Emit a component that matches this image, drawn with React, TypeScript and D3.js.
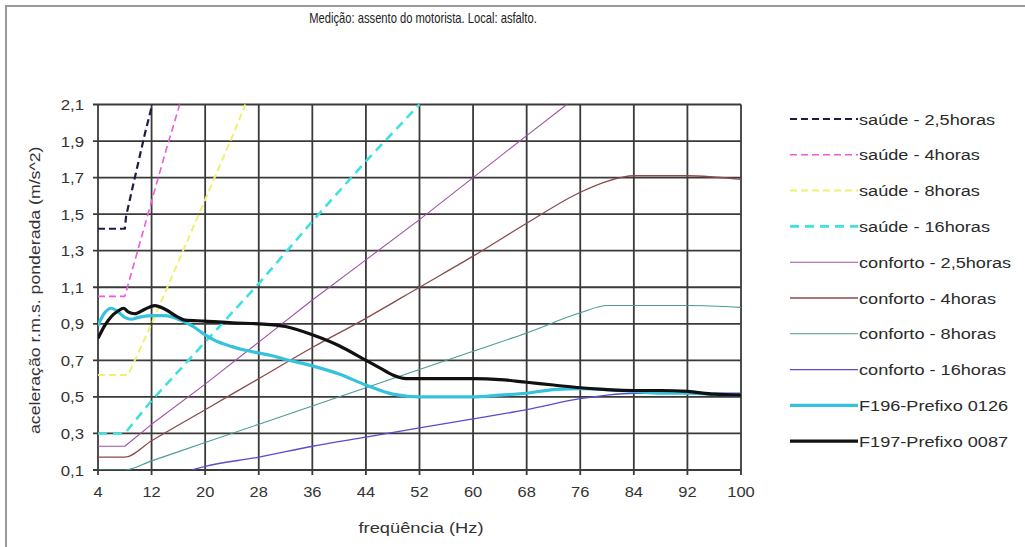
import React from "react";
import * as d3 from "d3";

const title = "Medição: assento do motorista. Local: asfalto.";
const xTitle = "freqüência (Hz)";
const yTitle = "aceleração r.m.s. ponderada (m/s^2)";

const xTicks = [4, 12, 20, 28, 36, 44, 52, 60, 68, 76, 84, 92, 100];
const yTicks = [0.1, 0.3, 0.5, 0.7, 0.9, 1.1, 1.3, 1.5, 1.7, 1.9, 2.1];

const saude25F = [4, 8, 8.2, 9, 10, 11, 12.1];
const saude25V = [1.42, 1.42, 1.49, 1.62, 1.78, 1.94, 2.1];
const saude4F = [4, 8, 10, 12, 14, 16.2];
const saude4V = [1.05, 1.05, 1.31, 1.57, 1.83, 2.1];
const saude8F = [4, 8.5, 12, 16, 20, 24, 26];
const saude8V = [0.62, 0.62, 0.9, 1.24, 1.58, 1.92, 2.1];
const saude16F = [4, 8, 12, 20, 28, 36, 44, 52];
const saude16V = [0.3, 0.3, 0.48, 0.8, 1.12, 1.46, 1.79, 2.1];

const conf25F = [4, 8, 12, 20, 28, 36, 44, 52, 60, 68, 74];
const conf25V = [0.23, 0.23, 0.35, 0.57, 0.8, 1.03, 1.25, 1.47, 1.7, 1.93, 2.1];
const conf4F = [4, 8, 12, 20, 28, 36, 44, 52, 60, 68, 76, 80, 84, 92, 100];
const conf4V = [0.17, 0.17, 0.26, 0.43, 0.6, 0.77, 0.93, 1.1, 1.27, 1.45, 1.62, 1.68, 1.71, 1.71, 1.69];
const conf8F = [4, 8, 12, 20, 28, 36, 44, 52, 60, 68, 76, 80, 84, 92, 100];
const conf8V = [0.1, 0.1, 0.15, 0.25, 0.35, 0.45, 0.55, 0.65, 0.75, 0.85, 0.96, 1.0, 1.0, 1.0, 0.99];
const conf16F = [18, 20, 28, 36, 44, 52, 60, 68, 76, 80, 84, 92, 100];
const conf16V = [0.1, 0.12, 0.17, 0.23, 0.28, 0.33, 0.38, 0.43, 0.49, 0.51, 0.52, 0.52, 0.52];

const f196F = [4, 5, 6, 7, 8, 9, 10, 12, 14, 16, 18, 20, 22, 24, 26, 28, 30, 32, 36, 40, 44, 48, 52, 56, 60, 64, 68, 72, 76, 80, 84, 88, 92, 96, 100];
const f196V = [0.89, 0.96, 0.985, 0.965, 0.935, 0.925, 0.935, 0.945, 0.945, 0.925, 0.89, 0.84, 0.8, 0.775, 0.755, 0.74, 0.725, 0.705, 0.67, 0.625, 0.565, 0.515, 0.5, 0.5, 0.5, 0.51, 0.52, 0.54, 0.545, 0.54, 0.53, 0.52, 0.52, 0.515, 0.51];
const f197F = [4, 5, 6, 7, 7.8, 8.5, 9.5, 11, 12.5, 14, 16, 17, 20, 24, 28, 32, 36, 40, 44, 46, 48, 50, 52, 60, 64, 68, 72, 76, 80, 84, 88, 92, 96, 100];
const f197V = [0.82, 0.89, 0.94, 0.97, 0.985, 0.965, 0.955, 0.98, 1.0, 0.98, 0.935, 0.92, 0.915, 0.905, 0.9, 0.885, 0.84, 0.78, 0.7, 0.66, 0.62, 0.6, 0.6, 0.6, 0.595, 0.58, 0.565, 0.55, 0.54, 0.535, 0.535, 0.53, 0.515, 0.51];

const seriesNames = [
  "saúde - 2,5horas",
  "saúde - 4horas",
  "saúde - 8horas",
  "saúde - 16horas",
  "conforto - 2,5horas",
  "conforto - 4horas",
  "conforto - 8horas",
  "conforto - 16horas",
  "F196-Prefixo 0126",
  "F197-Prefixo 0087",
];

const seriesF = [saude25F, saude4F, saude8F, saude16F, conf25F, conf4F, conf8F, conf16F, f196F, f197F];
const seriesV = [saude25V, saude4V, saude8V, saude16V, conf25V, conf4V, conf8V, conf16V, f196V, f197V];

const styles = [
  { color: "#1c1c4a", width: 2.2, dash: "7,4", smooth: false },
  { color: "#ee5ad8", width: 1.6, dash: "7,4", smooth: false },
  { color: "#f0f070", width: 2, dash: "7,4", smooth: false },
  { color: "#3fe0e0", width: 2.6, dash: "9,6", smooth: false },
  { color: "#a050a8", width: 1.1, dash: null, smooth: false },
  { color: "#8c4a4a", width: 1.3, dash: null, smooth: true },
  { color: "#4c9a9a", width: 1.1, dash: null, smooth: true },
  { color: "#5a4ccc", width: 1.3, dash: null, smooth: true },
  { color: "#36c2dc", width: 3.2, dash: null, smooth: true },
  { color: "#111111", width: 3.2, dash: null, smooth: true },
];

const W = 1025;
const H = 547;
const L = 98;
const R = 741;
const T = 104.5;
const B = 470;

export default function App() {
  const x = d3.scaleLinear().domain([4, 100]).range([L, R]);
  const y = d3.scaleLinear().domain([0.1, 2.1]).range([B, T]);
  const font = "'Liberation Sans', Arial, sans-serif";

  return (
    <svg
      width={W}
      height={H}
      style={{ position: "absolute", left: 0, top: 0, background: "#fff" }}
      fontFamily={font}
    >
      <rect x={6} y={6} width={1040} height={560} fill="#fff" stroke="#9a9a9a" strokeWidth={2} />
      <text
        transform="translate(423, 23) scale(0.8, 1)"
        textAnchor="middle"
        fontSize={14}
        fill="#222"
      >
        {title}
      </text>
      <defs>
        <clipPath id="plotclip">
          <rect x={L} y={T - 2} width={R - L} height={B - T + 2} />
        </clipPath>
      </defs>
      {/* grid */}
      {xTicks.map((t) => (
        <line key={"gx" + t} x1={x(t)} x2={x(t)} y1={T} y2={B + 5} stroke="#3a3a3a" strokeWidth={1.8} />
      ))}
      {yTicks.map((t) => (
        <line key={"gy" + t} x1={L - 5} x2={R} y1={y(t)} y2={y(t)} stroke="#3a3a3a" strokeWidth={1.8} />
      ))}
      {/* series */}
      <g clipPath="url(#plotclip)">
        {seriesF.map((fs, i) => {
          const st = styles[i];
          const pts = fs.map((f, j) => [f, seriesV[i][j]] as [number, number]);
          const gen = d3
            .line<[number, number]>()
            .x((d) => x(d[0]))
            .y((d) => y(d[1]))
            .curve(st.smooth ? d3.curveMonotoneX : d3.curveLinear);
          return (
            <path
              key={"s" + i}
              d={gen(pts) || ""}
              fill="none"
              stroke={st.color}
              strokeWidth={st.width}
              strokeDasharray={st.dash || undefined}
              strokeLinejoin="round"
            />
          );
        })}
      </g>
      {/* axis labels */}
      {yTicks.map((t) => (
        <text
          key={"yl" + t}
          transform={`translate(84, ${y(t) + 5.5}) scale(1.12, 1)`}
          textAnchor="end"
          fontSize={15}
          fill="#333"
        >
          {d3.format(".1f")(t).replace(".", ",")}
        </text>
      ))}
      {xTicks.map((t) => (
        <text
          key={"xl" + t}
          transform={`translate(${x(t)}, 497) scale(1.1, 1)`}
          textAnchor="middle"
          fontSize={15}
          fill="#333"
        >
          {t}
        </text>
      ))}
      <text transform="translate(421, 533) scale(1.18, 1)" textAnchor="middle" fontSize={15.5} fill="#333">
        {xTitle}
      </text>
      <text
        transform={`translate(40, ${(T + B) / 2 + 3}) rotate(-90) scale(1.18, 1)`}
        textAnchor="middle"
        fontSize={15}
        fill="#333"
      >
        {yTitle}
      </text>
      {/* legend */}
      {seriesNames.map((n, i) => {
        const st = styles[i];
        const ly = 119 + i * 35.8;
        return (
          <g key={"lg" + i}>
            <line
              x1={790}
              x2={858}
              y1={ly}
              y2={ly}
              stroke={st.color}
              strokeWidth={st.width}
              strokeDasharray={st.dash || undefined}
            />
            <text transform={`translate(859, ${ly + 5.5}) scale(1.17, 1)`} fontSize={15.5} fill="#2a2a2a">
              {n}
            </text>
          </g>
        );
      })}
    </svg>
  );
}
